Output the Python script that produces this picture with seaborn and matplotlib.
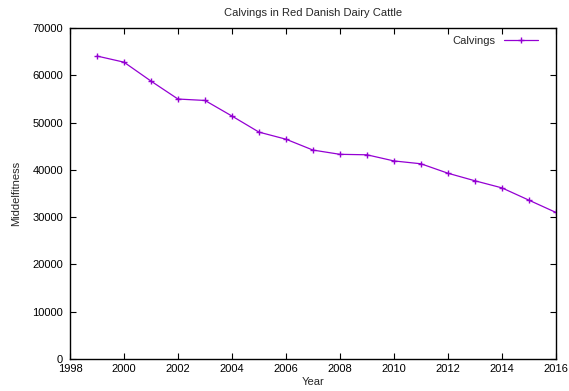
import matplotlib
matplotlib.use("Agg")
import matplotlib.pyplot as plt
import seaborn as sns
import pandas as pd

years = [1999, 2000, 2001, 2002, 2003, 2004, 2005, 2006, 2007, 2008,
         2009, 2010, 2011, 2012, 2013, 2014, 2015, 2016]
calvings = [64100, 62800, 58800, 55000, 54700, 51400, 48000, 46500, 44200, 43300,
            43200, 41900, 41300, 39300, 37700, 36200, 33600, 31000]
x_ticks = list(range(1998, 2017, 2))
y_ticks = list(range(0, 70001, 10000))

sns.set_style("ticks")
plt.rcParams['font.family'] = ['Liberation Sans', 'DejaVu Sans']

df = pd.DataFrame({"Year": years, "Calvings": calvings})

fig = plt.figure(figsize=(5.69, 3.91), dpi=100)
ax = fig.add_axes([0.123, 0.082, 0.854, 0.846])
sns.lineplot(data=df, x="Year", y="Calvings", ax=ax, color="#9400D3",
             marker="+", markersize=5, markeredgewidth=1.0, linewidth=0.9,
             markeredgecolor="#9400D3", label="Calvings")

ax.set_xlim(1998, 2016)
ax.set_ylim(0, 70000)
ax.set_xticks(x_ticks)
ax.set_yticks(y_ticks)
ax.tick_params(direction="in", top=True, right=True, labelsize=8, length=4, width=0.8,
               colors="black")
ax.tick_params(axis="x", pad=4)
ax.tick_params(axis="y", pad=5)
for s in ax.spines.values():
    s.set_linewidth(1.0)
    s.set_color("black")
ax.set_xlabel("Year", fontsize=8, labelpad=2)
ax.set_ylabel("Middelfitness", fontsize=8, labelpad=8)
ax.set_title("Calvings in Red Danish Dairy Cattle", fontsize=8, pad=9)
leg = ax.legend(loc="upper right", bbox_to_anchor=(0.98, 1.0), frameon=False,
                fontsize=8, markerfirst=False, handlelength=3.1, borderaxespad=0.3)

fig.savefig("out.png", dpi=100)
